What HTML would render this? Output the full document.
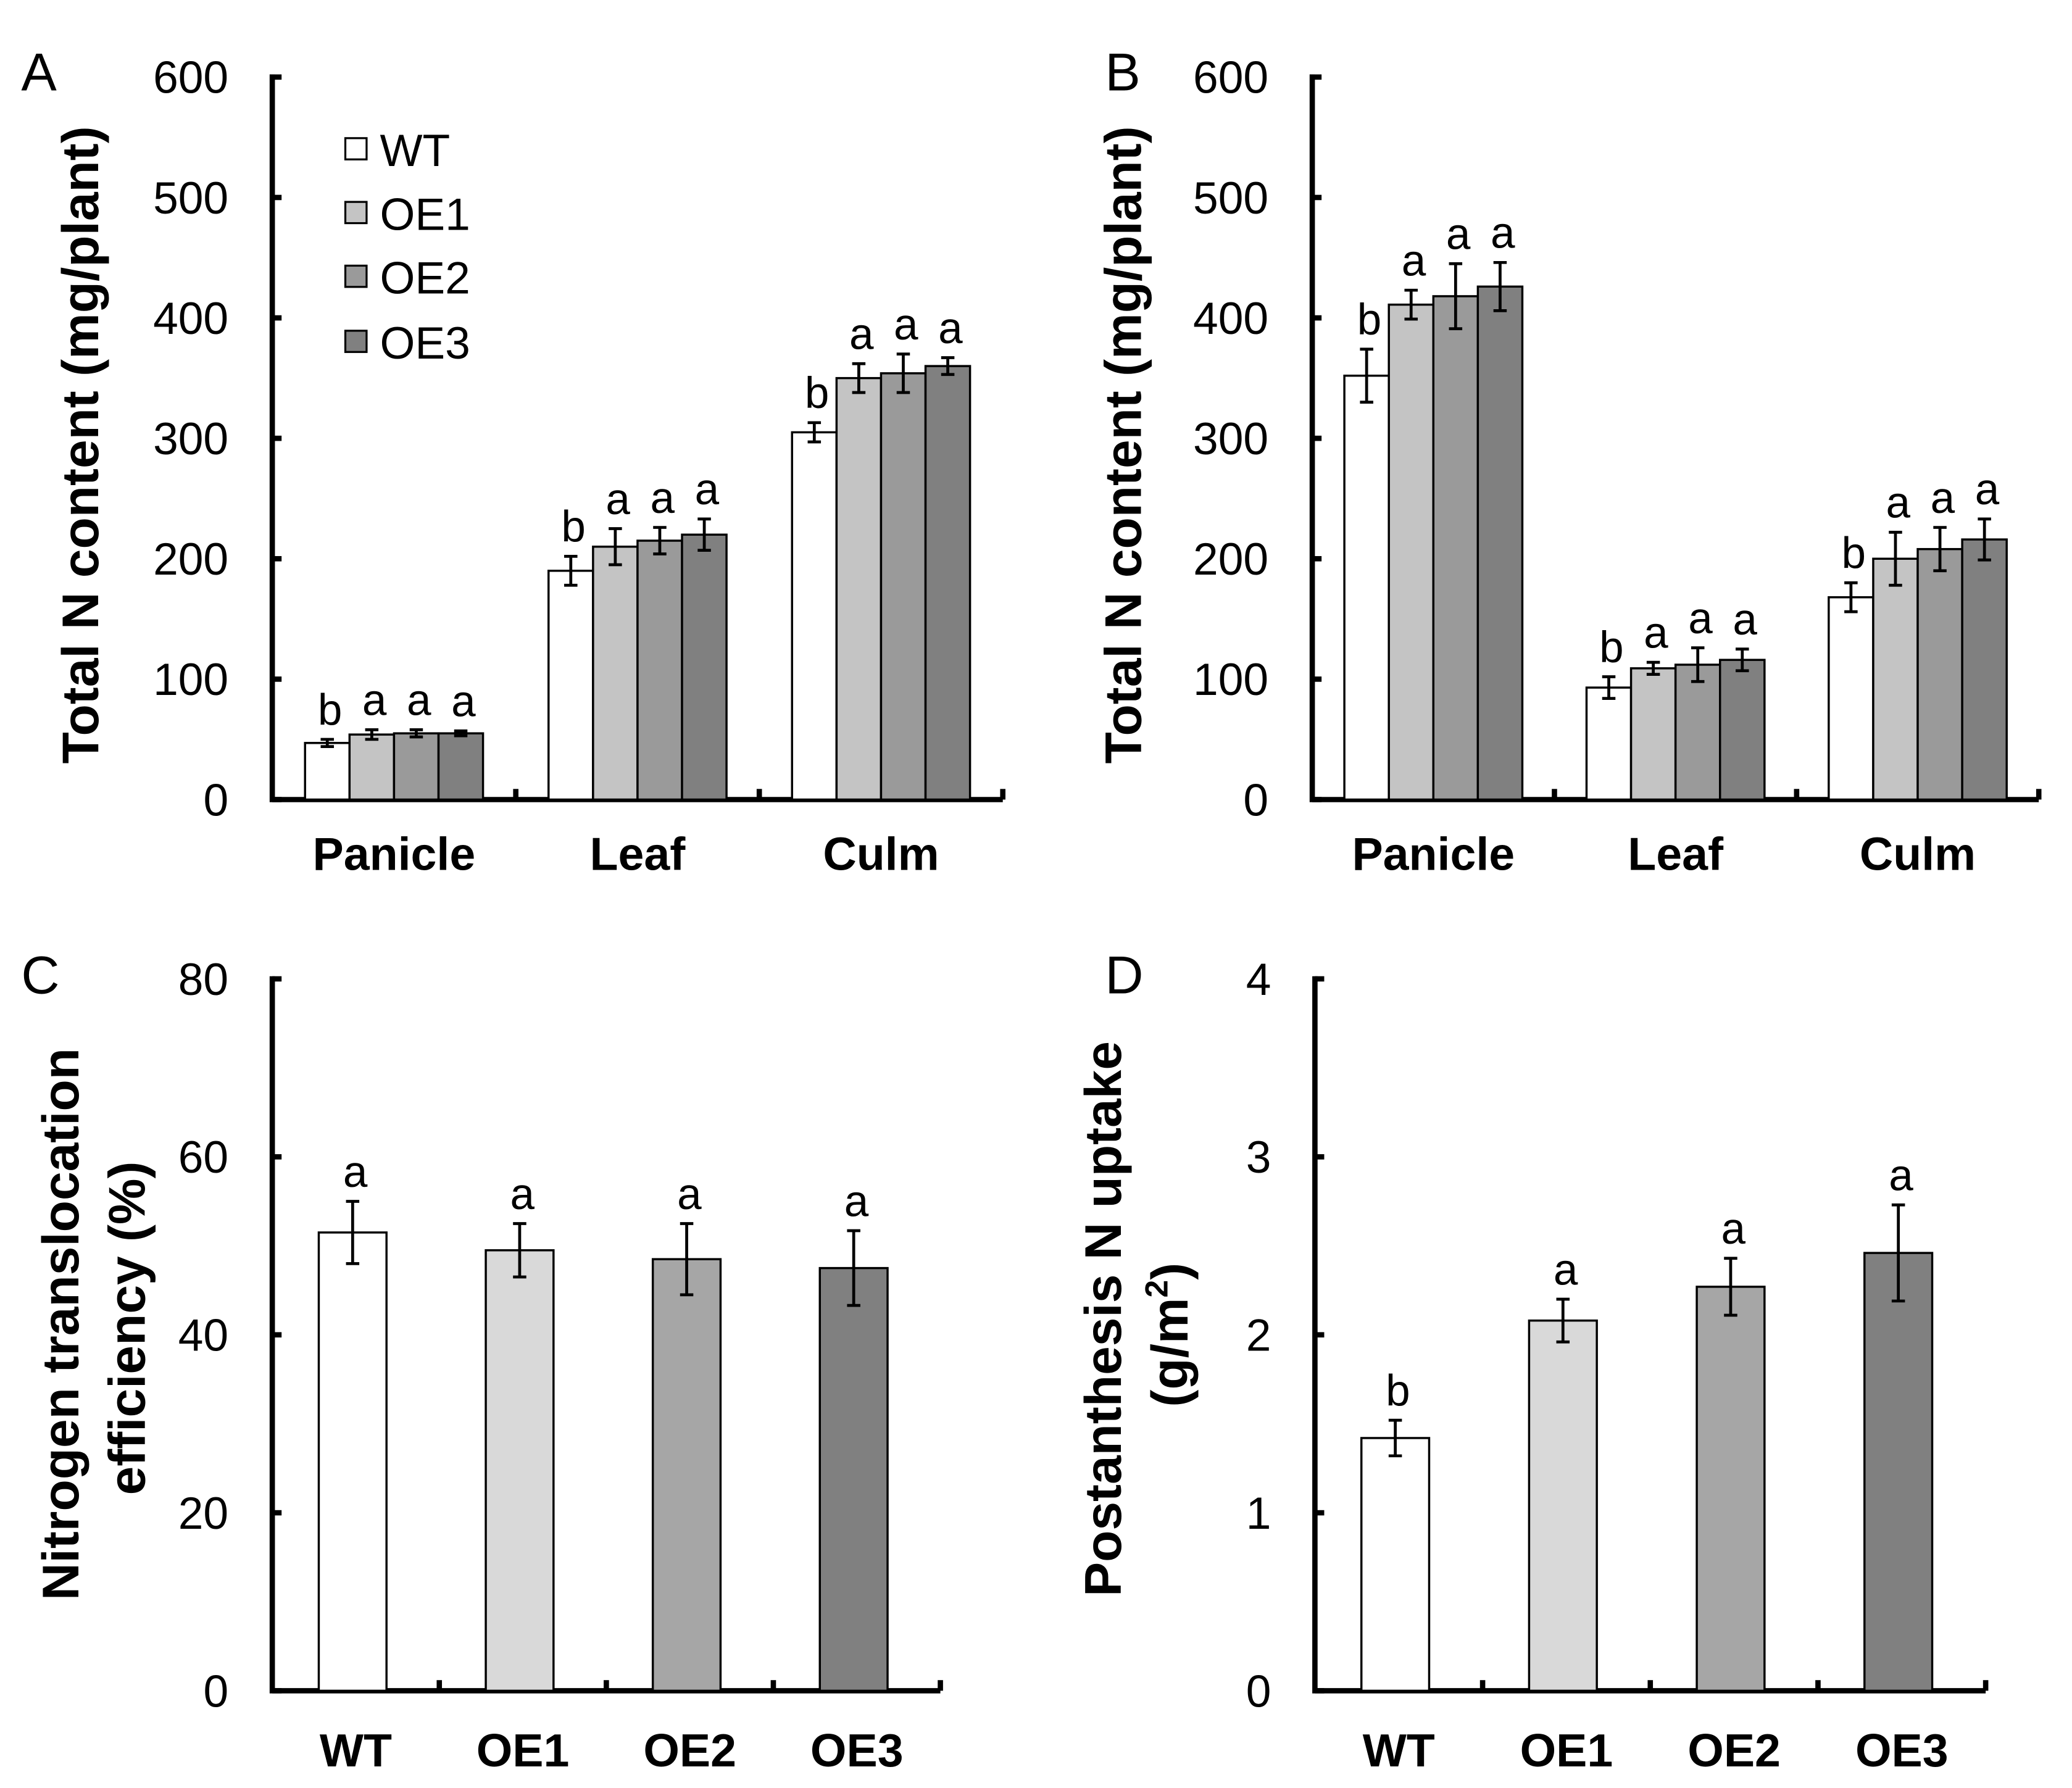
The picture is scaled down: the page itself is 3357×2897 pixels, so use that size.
<!DOCTYPE html>
<html><head><meta charset="utf-8"><style>
html,body{margin:0;padding:0;background:#fff;}
svg{display:block;font-family:"Liberation Sans",Arial,sans-serif;}
</style></head><body>
<svg id="fig" xmlns="http://www.w3.org/2000/svg" width="3357" height="2897" viewBox="0 0 1560 1346.2">
<rect width="1560" height="1346.2" fill="#fff"/>
<g font-size="40" fill="#000">
<text x="16" y="68">A</text>
<text x="832" y="68">B</text>
<text x="16" y="748">C</text>
<text x="832" y="748">D</text>
</g>
<g font-size="34">
<g><rect x="260" y="104" width="16" height="16" fill="#fff" stroke="#000" stroke-width="1.5"/><text x="286" y="125">WT</text></g>
<g><rect x="260" y="152" width="16" height="16" fill="#c4c4c4" stroke="#000" stroke-width="1.5"/><text x="286" y="173">OE1</text></g>
<g><rect x="260" y="200" width="16" height="16" fill="#9a9a9a" stroke="#000" stroke-width="1.5"/><text x="286" y="221">OE2</text></g>
<g><rect x="260" y="249" width="16" height="16" fill="#808080" stroke="#000" stroke-width="1.5"/><text x="286" y="270">OE3</text></g>
</g>
</svg>
<script>
// ---- data ----
const groupCats = ["Panicle", "Leaf", "Culm"];
const lines = ["WT", "OE1", "OE2", "OE3"];
const aValues = [[47, 54, 55, 55], [190, 210, 215, 220], [305, 350, 354, 360]];
const aErrors = [[3, 4, 3, 2], [12, 15, 11, 13], [8, 12, 16, 7]];
const aLetters = [["b","a","a","a"],["b","a","a","a"],["b","a","a","a"]];
const bValues = [[352, 411, 418, 426], [93, 109, 112, 116], [168, 200, 208, 216]];
const bErrors = [[22, 12, 27, 20], [9, 5, 14, 9], [12, 22, 18, 17]];
const bLetters = [["b","a","a","a"],["b","a","a","a"],["b","a","a","a"]];
const abTicks = [0, 100, 200, 300, 400, 500, 600];
const cValues = [51.5, 49.5, 48.5, 47.5];
const cErrors = [3.5, 3, 4, 4.2];
const cLetters = ["a", "a", "a", "a"];
const cTicks = [0, 20, 40, 60, 80];
const dValues = [1.42, 2.08, 2.27, 2.46];
const dErrors = [0.1, 0.12, 0.16, 0.27];
const dLetters = ["b", "a", "a", "a"];
const dTicks = [0, 1, 2, 3, 4];

const NS = "http://www.w3.org/2000/svg";
const svg = document.getElementById("fig");
function mk(tag, attrs, parent) {
  const e = document.createElementNS(NS, tag);
  for (const k in attrs) e.setAttribute(k, attrs[k]);
  (parent || svg).appendChild(e);
  return e;
}
const fillsAB = ["#ffffff", "#c4c4c4", "#9a9a9a", "#808080"];
const fillsCD = ["#ffffff", "#d9d9d9", "#a6a6a6", "#808080"];

function axes(g, x0, x1, yTop, yBot, ticks, nCats, catLabels, catY, name) {
  const max = ticks[ticks.length - 1];
  const ys = v => yBot - (v / max) * (yBot - yTop);
  const ax = mk("path", {d: `M${x0} ${yTop-2}V${yBot}H${x1}`, fill: "none", stroke: "#000", "stroke-width": 4}, g);
  
  
  ticks.forEach(t => {
    const y = ys(t);
    const tk = mk("line", {x1: x0, x2: x0 + 7, y1: y, y2: y, stroke: "#000", "stroke-width": 4}, g);
    
    
    const tl = mk("text", {x: x0 - 33, y: y + 12, "text-anchor": "end", "font-size": 34}, g);
    tl.textContent = t;
    
    
  });
  const cw = (x1 - x0) / nCats;
  for (let i = 1; i <= nCats; i++) {
    const x = x0 + cw * i;
    const tk = mk("line", {x1: x, x2: x, y1: yBot, y2: yBot - 8, stroke: "#000", "stroke-width": 4}, g);
    
    
  }
  catLabels.forEach((c, i) => {
    const t = mk("text", {x: x0 + cw * (i + 0.5), y: catY, "text-anchor": "middle", "font-size": 35, "font-weight": "bold"}, g);
    t.textContent = c;
    
    
  });
  return {ys, cw};
}

function bar(g, x, w, v, e, letter, fill, ys, yBot, name) {
  const y = ys(v);
  const r = mk("rect", {x: x, y: y, width: w, height: yBot - y, fill: fill, stroke: "#000", "stroke-width": 1.6}, g);
  
  
  const cx = x + w / 2, yt = ys(v + e), yb = ys(v - e);
  const eb = mk("path", {d: `M${cx} ${yt}V${yb}M${cx-5} ${yt}H${cx+5}M${cx-5} ${yb}H${cx+5}`, fill: "none", stroke: "#000", "stroke-width": 2.2}, g);
  
  
  const t = mk("text", {x: cx + 2, y: yt - 11, "text-anchor": "middle", "font-size": 33}, g);
  t.textContent = letter;
  
  
}

function groupedPanel(name, x0, x1, vals, errs, letters) {
  const g = mk("g", {});
  
  
  const yTop = 58, yBot = 602;
  const {ys, cw} = axes(g, x0, x1, yTop, yBot, abTicks, groupCats.length, groupCats, 655, name);
  const bw = 33.5, pad = (cw - bw * 4) / 2;
  groupCats.forEach((c, i) => {
    lines.forEach((l, j) => {
      bar(g, x0 + cw * i + pad + bw * j, bw, vals[i][j], errs[i][j], letters[i][j], fillsAB[j], ys, yBot, name + '-bar-' + c.toLowerCase() + '-' + l.toLowerCase());
    });
  });
  return g;
}
function simplePanel(name, x0, x1, ticks, vals, errs, letters) {
  const g = mk("g", {});
  
  
  const yTop = 737, yBot = 1273;
  const {ys, cw} = axes(g, x0, x1, yTop, yBot, ticks, lines.length, lines, 1330, name);
  const bw = 51, pad = 35;
  lines.forEach((l, j) => {
    bar(g, x0 + cw * j + pad, bw, vals[j], errs[j], letters[j], fillsCD[j], ys, yBot, name + '-bar-' + l.toLowerCase());
  });
  return g;
}
groupedPanel("panel-a", 205, 755, aValues, aErrors, aLetters);
groupedPanel("panel-b", 988, 1535, bValues, bErrors, bLetters);
simplePanel("panel-c", 205, 708, cTicks, cValues, cErrors, cLetters);
simplePanel("panel-d", 990, 1495, dTicks, dValues, dErrors, dLetters);

function ytitle(x, y, txt, name, sup) {
  const t = mk("text", {x: 0, y: 0, transform: `translate(${x},${y}) rotate(-90)`, "text-anchor": "middle", "font-size": 39, "font-weight": "bold"});
  t.textContent = txt;
  if (sup) { const s = mk("tspan", {"font-size": 24, dy: -15}, t); s.textContent = "2"; const s2 = mk("tspan", {dy: 15}, t); s2.textContent = ")"; }
  
  
}
ytitle(74, 335, "Total N content (mg/plant)", "panel-a-y-axis-title");
ytitle(859, 335, "Total N content (mg/plant)", "panel-b-y-axis-title");
ytitle(59, 997, "Nitrogen translocation", "panel-c-y-axis-title-line1");
ytitle(109, 1000, "efficiency (%)", "panel-c-y-axis-title-line2");
ytitle(844, 993, "Postanthesis  N uptake", "panel-d-y-axis-title-line1");
ytitle(894, 1005, "(g/m", "panel-d-y-axis-title-line2", true);
</script>
</body></html>
